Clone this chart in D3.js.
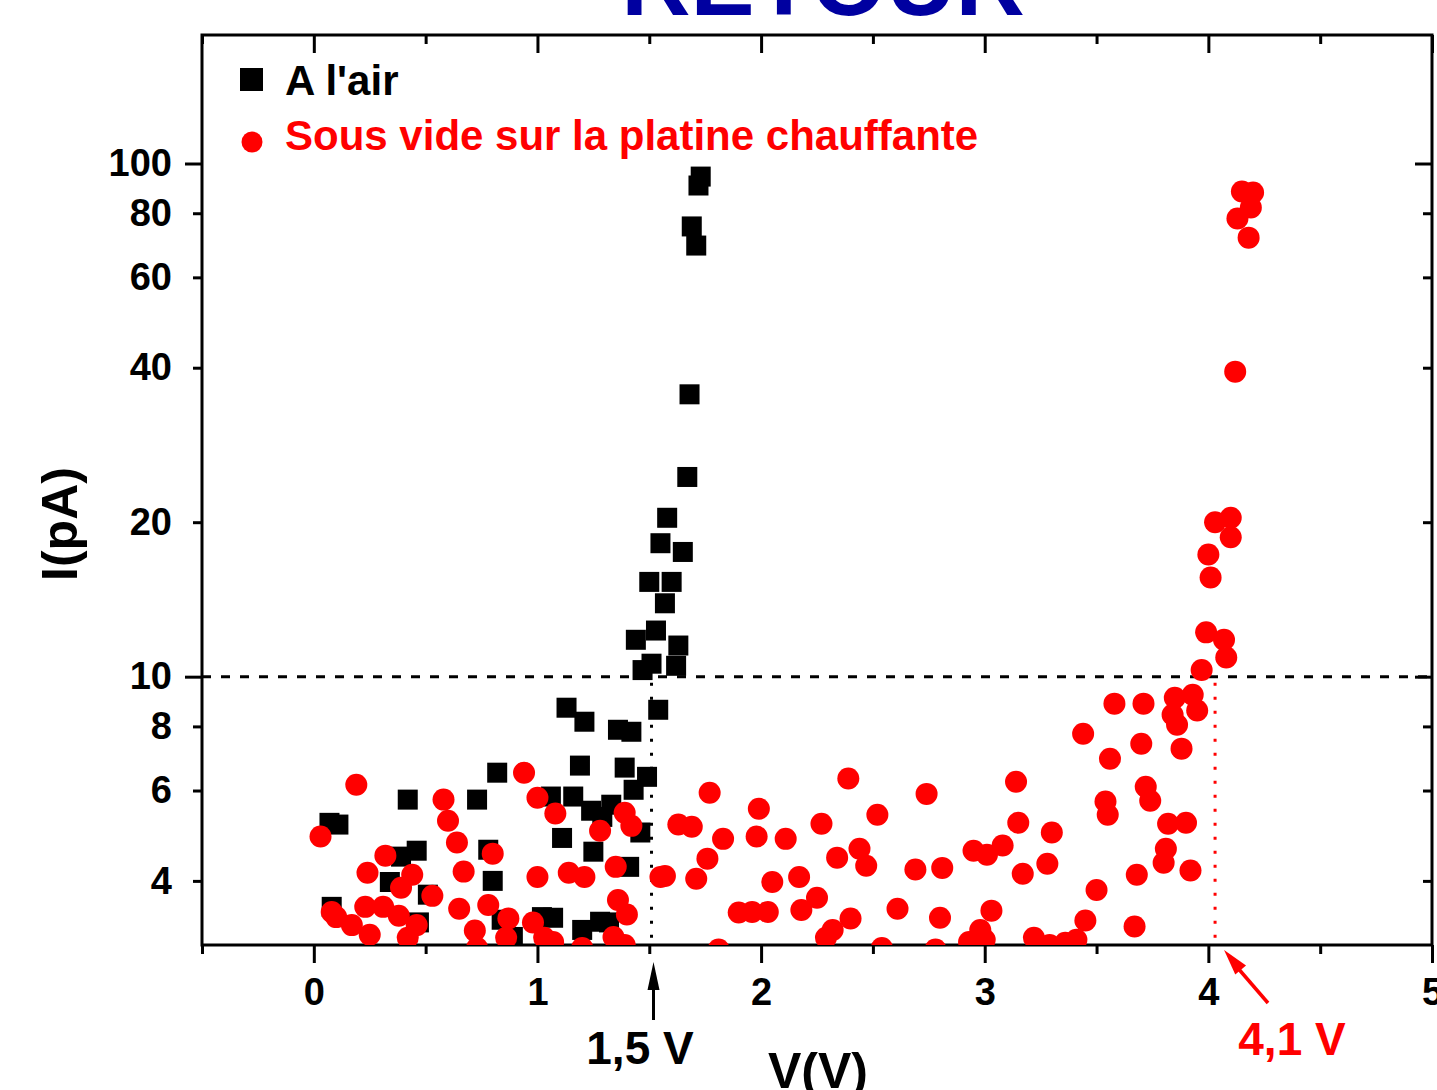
<!DOCTYPE html>
<html>
<head>
<meta charset="utf-8">
<script src="https://cdn.jsdelivr.net/npm/d3@7"></script>
<style>
  body { margin: 0; background: #fff; overflow: hidden; }
  svg { display: block; font-family: Arial, "Liberation Sans", sans-serif; font-weight: bold; }
</style>
</head>
<body>
<svg id="chart" width="1437" height="1090"></svg>
<script>
// black squares : "A l'air"
var airV = [0.07, 0.11, 0.08, 0.42, 0.39, 0.46, 0.34, 0.51, 0.47, 0.73, 0.82, 0.78, 0.80, 0.84, 1.02, 1.07,
    1.06, 1.11, 1.13, 1.21, 1.19, 1.16, 1.24, 1.29, 1.33, 1.25, 1.20, 1.28, 1.32, 1.36, 1.42, 1.39,
    1.49, 1.43, 1.46, 1.41, 1.54, 1.47, 1.51, 1.44, 1.53, 1.62, 1.63, 1.50, 1.60, 1.57, 1.58, 1.55,
    1.65, 1.67, 1.68, 1.69, 1.71, 1.72, 1.73, 0.89];
var airI = [5.19, 5.15, 3.56, 5.76, 4.46, 4.58, 3.98, 3.76, 3.32, 5.76, 6.50, 4.60, 4.00, 3.36, 3.40, 3.39,
    5.84, 4.85, 8.70, 8.17, 6.71, 5.84, 5.48, 5.33, 5.63, 4.56, 3.21, 3.33, 3.32, 7.88, 7.81, 6.65,
    6.38, 6.02, 4.97, 4.26, 8.62, 10.3, 10.6, 11.8, 12.3, 10.5, 11.5, 15.3, 15.3, 13.9, 20.4, 18.2,
    17.5, 24.5, 35.5, 75.4, 69.2, 90.6, 94.3, 3.11];

// red circles : "Sous vide sur la platine chauffante"
var vacV = [0.03, 0.19, 0.58, 0.60, 0.94, 1.00, 1.08, 0.32, 0.64, 0.80, 0.24, 0.44, 0.39, 0.67, 1.00, 0.53,
    0.08, 0.10, 0.17, 0.23, 0.31, 0.38, 0.25, 0.46, 0.42, 0.65, 0.78, 0.72, 0.87, 0.86, 0.98, 1.03,
    0.73, 1.07, 1.14, 1.21, 1.35, 1.39, 1.42, 1.28, 1.36, 1.40, 1.20, 1.34, 1.39, 1.55, 1.57, 1.71,
    1.63, 1.69, 1.77, 1.83, 1.76, 1.99, 1.98, 2.11, 2.05, 2.17, 1.90, 1.96, 2.03, 2.18, 2.25, 1.81,
    2.27, 2.39, 2.52, 2.74, 3.14, 3.15, 3.30, 2.34, 2.44, 2.47, 2.69, 2.81, 2.95, 3.01, 3.08, 3.17,
    3.28, 2.40, 2.61, 2.80, 3.03, 2.32, 2.29, 2.54, 2.78, 2.93, 2.98, 3.00, 3.22, 3.29, 3.36, 3.41,
    3.45, 3.50, 3.67, 3.68, 3.44, 3.58, 3.71, 3.56, 3.70, 3.72, 3.74, 3.54, 3.55, 3.82, 3.90, 3.81,
    3.80, 3.92, 3.85, 3.93, 3.84, 3.95, 3.86, 3.88, 3.97, 4.08, 4.07, 3.99, 4.01, 4.00, 4.03, 4.10,
    4.10, 4.12, 4.15, 4.20, 4.19, 4.13, 4.18];
var vacI = [4.88, 6.16, 5.76, 5.24, 6.50, 5.81, 5.41, 4.48, 4.75, 4.52, 4.15, 4.11, 3.88, 4.17, 4.07, 3.74,
    3.48, 3.40, 3.28, 3.56, 3.56, 3.42, 3.14, 3.28, 3.10, 3.53, 3.59, 3.20, 3.38, 3.10, 3.32, 3.10,
    2.96, 3.04, 4.15, 4.07, 4.26, 5.43, 5.12, 5.01, 3.67, 3.44, 2.96, 3.11, 3.00, 4.07, 4.09, 4.04,
    5.15, 5.10, 5.94, 4.83, 4.42, 5.53, 4.88, 4.83, 3.98, 4.07, 3.47, 3.48, 3.48, 3.51, 3.71, 2.94,
    5.17, 6.33, 5.38, 5.91, 6.24, 5.19, 4.97, 4.44, 4.62, 4.28, 4.21, 4.24, 4.58, 4.50, 4.69, 4.13,
    4.32, 3.38, 3.53, 3.39, 3.50, 3.21, 3.10, 2.96, 2.94, 3.04, 3.21, 3.07, 3.10, 3.00, 3.03, 3.07,
    3.35, 3.84, 3.26, 4.11, 7.74, 8.86, 8.86, 6.92, 7.40, 6.10, 5.73, 5.71, 5.38, 5.17, 5.19, 4.62,
    4.34, 4.19, 9.10, 9.22, 8.43, 8.59, 8.06, 7.24, 10.3, 10.9, 11.8, 12.2, 15.6, 17.3, 20.0, 20.4,
    18.7, 39.3, 88.2, 87.8, 82.1, 78.1, 71.7];

var xMajorTicks = [0, 1, 2, 3, 4, 5];
var xMinorTicks = [-0.5, 0.5, 1.5, 2.5, 3.5, 4.5];
var yMajorTicks = [10, 100];
var yMinorTicks = [4, 6, 8, 20, 40, 60, 80];
var seriesNames = ["A l'air", "Sous vide sur la platine chauffante"];
var titleText = "RETOUR";
var thresholdI = 10;
var onsetAir = 1.51;
var onsetVac = 4.03;
var onsetLabels = ["1,5 V", "4,1 V"];

function draw() {
    var svg = d3.select("#chart");
    var left = 202, right = 1432, top = 35, bottom = 945;

    var x = d3.scaleLinear().domain([-0.5, 5]).range([left, right]);
    var y = d3.scaleLog().domain([3, 178]).range([bottom, top]);

    // title (cut by the top of the picture)
    svg.append("text")
        .attr("x", 823).attr("y", 15)
        .attr("text-anchor", "middle")
        .style("font-size", "96px")
        .style("fill", "#0000a0")
        .text(titleText);

    svg.append("defs").append("clipPath").attr("id", "plotclip")
        .append("rect")
        .attr("x", left).attr("y", top)
        .attr("width", right - left).attr("height", bottom - top);

    function styleAxis(g) {
        g.select(".domain").remove();
        g.selectAll(".tick line").style("stroke", "#000").style("stroke-width", "3px");
        g.selectAll(".tick text").style("font-size", "38px").style("font-family", "Arial, 'Liberation Sans', sans-serif")
            .style("font-weight", "bold").style("fill", "#000");
    }

    // left axis, labels on majors and minors
    svg.append("g").attr("transform", "translate(" + left + ",0)")
        .call(d3.axisLeft(y).tickValues(yMajorTicks).tickSize(17).tickPadding(13).tickFormat(d3.format("d")))
        .call(styleAxis);
    svg.append("g").attr("transform", "translate(" + left + ",0)")
        .call(d3.axisLeft(y).tickValues(yMinorTicks).tickSize(9).tickPadding(21).tickFormat(d3.format("d")))
        .call(styleAxis);

    // right axis, ticks only (pointing into the plot)
    svg.append("g").attr("transform", "translate(" + right + ",0)")
        .call(d3.axisLeft(y).tickValues(yMajorTicks).tickSize(17).tickFormat(""))
        .call(styleAxis);
    svg.append("g").attr("transform", "translate(" + right + ",0)")
        .call(d3.axisLeft(y).tickValues(yMinorTicks).tickSize(9).tickFormat(""))
        .call(styleAxis);

    // bottom axis
    svg.append("g").attr("transform", "translate(0," + bottom + ")")
        .call(d3.axisBottom(x).tickValues(xMajorTicks).tickSize(18).tickPadding(15).tickFormat(d3.format("d")))
        .call(styleAxis);
    svg.append("g").attr("transform", "translate(0," + bottom + ")")
        .call(d3.axisBottom(x).tickValues(xMinorTicks).tickSize(9).tickFormat(""))
        .call(styleAxis);

    // top axis, ticks only (pointing down)
    svg.append("g").attr("transform", "translate(0," + top + ")")
        .call(d3.axisBottom(x).tickValues(xMajorTicks).tickSize(18).tickFormat(""))
        .call(styleAxis);
    svg.append("g").attr("transform", "translate(0," + top + ")")
        .call(d3.axisBottom(x).tickValues(xMinorTicks).tickSize(9).tickFormat(""))
        .call(styleAxis);

    // frame
    svg.append("rect")
        .attr("x", left).attr("y", top)
        .attr("width", right - left).attr("height", bottom - top)
        .style("fill", "none").style("stroke", "#000").style("stroke-width", "3px");

    // guide lines
    svg.append("line")
        .attr("x1", left).attr("x2", right)
        .attr("y1", y(thresholdI)).attr("y2", y(thresholdI))
        .style("stroke", "#000").style("stroke-width", "3px").style("stroke-dasharray", "9,10");
    svg.append("line")
        .attr("x1", x(onsetAir)).attr("x2", x(onsetAir))
        .attr("y1", y(thresholdI) + 6).attr("y2", bottom)
        .style("stroke", "#000").style("stroke-width", "3px").style("stroke-dasharray", "3,11");
    svg.append("line")
        .attr("x1", x(onsetVac)).attr("x2", x(onsetVac))
        .attr("y1", y(thresholdI) + 6).attr("y2", bottom)
        .style("stroke", "#ff0000").style("stroke-width", "3px").style("stroke-dasharray", "3,11");

    var plot = svg.append("g").attr("clip-path", "url(#plotclip)");

    var airData = airV.map(function (v, i) { return { v: v, i: airI[i] }; });
    var vacData = vacV.map(function (v, i) { return { v: v, i: vacI[i] }; });

    plot.selectAll(".air")
        .data(airData)
        .enter().append("rect")
        .attr("class", "air")
        .attr("x", function (d) { return x(d.v) - 10; })
        .attr("y", function (d) { return y(d.i) - 10; })
        .attr("width", 20)
        .attr("height", 20)
        .style("fill", "#000");

    plot.selectAll(".vac")
        .data(vacData)
        .enter().append("circle")
        .attr("class", "vac")
        .attr("cx", function (d) { return x(d.v); })
        .attr("cy", function (d) { return y(d.i); })
        .attr("r", 11)
        .style("fill", "#ff0000");

    // legend
    svg.append("rect").attr("x", 240).attr("y", 68).attr("width", 23).attr("height", 23).style("fill", "#000");
    svg.append("text").attr("x", 285).attr("y", 95).style("font-size", "42px").style("fill", "#000").text(seriesNames[0]);
    svg.append("circle").attr("cx", 252).attr("cy", 142).attr("r", 10.5).style("fill", "#ff0000");
    svg.append("text").attr("x", 285).attr("y", 150).style("font-size", "42px").style("fill", "#ff0000").text(seriesNames[1]);

    // axis titles
    svg.append("text")
        .attr("transform", "translate(77,524) rotate(-90)")
        .attr("text-anchor", "middle")
        .style("font-size", "50px")
        .text("I(pA)");
    svg.append("text")
        .attr("x", 818).attr("y", 1088)
        .attr("text-anchor", "middle")
        .style("font-size", "50px")
        .text("V(V)");

    // annotations
    var ax = x(onsetAir) + 2;
    svg.append("line")
        .attr("x1", ax).attr("x2", ax).attr("y1", 1020).attr("y2", 980)
        .style("stroke", "#000").style("stroke-width", "3px");
    svg.append("path")
        .attr("d", "M" + ax + ",962 L" + (ax - 6) + ",990 L" + (ax + 6) + ",990 Z")
        .style("fill", "#000");
    svg.append("text")
        .attr("x", 640).attr("y", 1064)
        .attr("text-anchor", "middle")
        .style("font-size", "46px")
        .text(onsetLabels[0]);

    var tx = x(onsetVac) + 9, ty = 950;
    svg.append("line")
        .attr("x1", 1268).attr("y1", 1003).attr("x2", tx + 12).attr("y2", ty + 16)
        .style("stroke", "#ff0000").style("stroke-width", "3.5px");
    var ang = Math.atan2(1003 - ty, 1268 - tx);
    var hl = 26, hw = 7;
    var bx = tx + hl * Math.cos(ang), by = ty + hl * Math.sin(ang);
    svg.append("path")
        .attr("d", "M" + tx + "," + ty +
            " L" + (bx - hw * Math.sin(ang)) + "," + (by + hw * Math.cos(ang)) +
            " L" + (bx + hw * Math.sin(ang)) + "," + (by - hw * Math.cos(ang)) + " Z")
        .style("fill", "#ff0000");
    svg.append("text")
        .attr("x", 1292).attr("y", 1055)
        .attr("text-anchor", "middle")
        .style("font-size", "46px")
        .style("fill", "#ff0000")
        .text(onsetLabels[1]);
}

draw();
</script>
</body>
</html>
